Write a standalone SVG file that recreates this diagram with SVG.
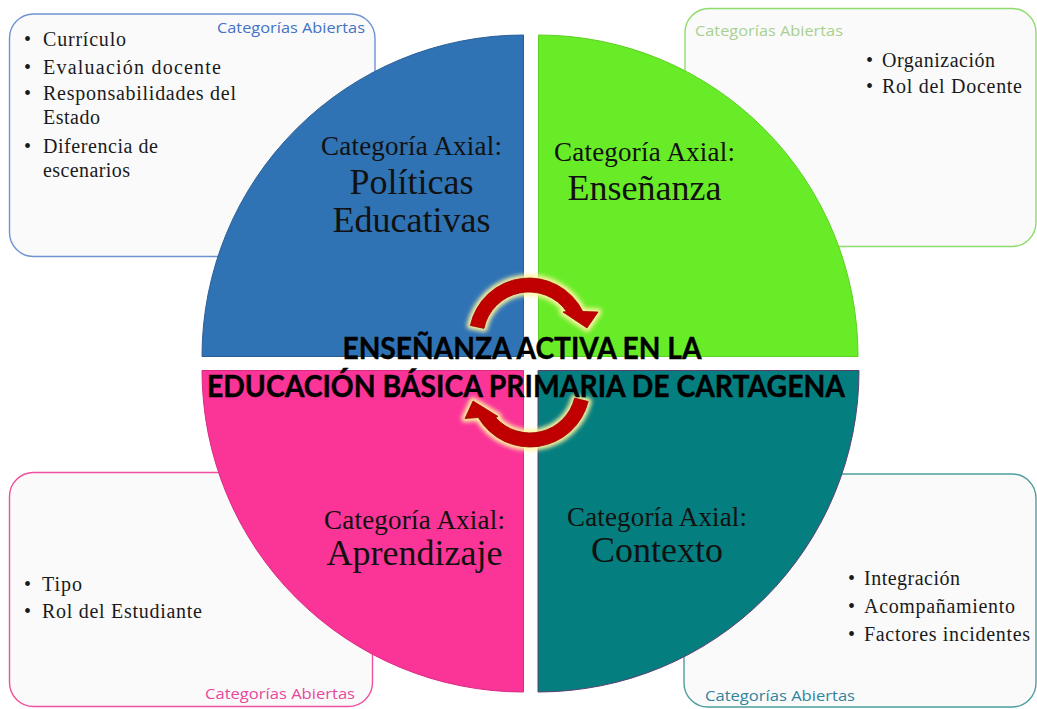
<svg xmlns="http://www.w3.org/2000/svg" width="1037" height="709" viewBox="0 0 1037 709">
<style>
.box{fill:#fafafb;stroke-width:1.4}
.lbl{font-family:"Open Sans",Lato,sans-serif;font-size:14.5px}
.item{font-family:"Liberation Serif","Times New Roman",serif;font-size:20px;fill:#1a1a1a}
.axl{font-family:"Liberation Serif","Times New Roman",serif;font-size:27px;fill:#111;text-anchor:middle}
.axn{font-family:"Liberation Serif","Times New Roman",serif;font-size:36px;fill:#111;text-anchor:middle}
.title{font-family:Lato,"Open Sans",sans-serif;font-weight:bold;font-size:30px;fill:#000;stroke:#000;stroke-width:0.4}
.arr{fill:#c00000;stroke:#9a0000;stroke-width:0.8}
.halo{fill:#fff4a0;stroke:#fff4a0;stroke-width:7;stroke-linejoin:round}
</style>
<defs>
<filter id="glow" x="-20%" y="-20%" width="140%" height="140%"><feGaussianBlur stdDeviation="2.2"/></filter>
</defs>
<rect width="1037" height="709" fill="#ffffff"/>

<g id="box-politicas">
<rect class="box" x="9.5" y="14" width="365.5" height="242.5" rx="24" stroke="#7093d0"/>
<text class="lbl" x="217" y="33" fill="#4472c4" textLength="148" lengthAdjust="spacingAndGlyphs">Categorías Abiertas</text>
<text class="item" x="24" y="46">•</text><text class="item" x="43" y="46" textLength="83">Currículo</text>
<text class="item" x="24" y="74">•</text><text class="item" x="43" y="74" textLength="178">Evaluación docente</text>
<text class="item" x="24" y="100">•</text><text class="item" x="43" y="100" textLength="193">Responsabilidades del</text>
<text class="item" x="43" y="124" textLength="57">Estado</text>
<text class="item" x="24" y="153">•</text><text class="item" x="43" y="153" textLength="115">Diferencia de</text>
<text class="item" x="43" y="177" textLength="87">escenarios</text>
</g>

<g id="box-ensenanza">
<rect class="box" x="685" y="8.5" width="351" height="238" rx="24" stroke="#8edc6a"/>
<text class="lbl" x="695" y="36" fill="#a9d18e" textLength="148" lengthAdjust="spacingAndGlyphs">Categorías Abiertas</text>
<text class="item" x="866" y="67">•</text><text class="item" x="882" y="67" textLength="113">Organización</text>
<text class="item" x="866" y="93">•</text><text class="item" x="882" y="93" textLength="140">Rol del Docente</text>
</g>

<g id="box-aprendizaje">
<rect class="box" x="9.5" y="472.5" width="363" height="234" rx="24" stroke="#f0509f"/>
<text class="lbl" x="205" y="699" fill="#e8489c" textLength="150" lengthAdjust="spacingAndGlyphs">Categorías Abiertas</text>
<text class="item" x="24" y="591">•</text><text class="item" x="42" y="591" textLength="40">Tipo</text>
<text class="item" x="24" y="618">•</text><text class="item" x="42" y="618" textLength="160">Rol del Estudiante</text>
</g>

<g id="box-contexto">
<rect class="box" x="684" y="474" width="352" height="233" rx="24" stroke="#4f9e9e"/>
<text class="lbl" x="705" y="701" fill="#31849b" textLength="150" lengthAdjust="spacingAndGlyphs">Categorías Abiertas</text>
<text class="item" x="848" y="585">•</text><text class="item" x="864" y="585" textLength="96">Integración</text>
<text class="item" x="848" y="613">•</text><text class="item" x="864" y="613" textLength="151">Acompañamiento</text>
<text class="item" x="848" y="641">•</text><text class="item" x="864" y="641" textLength="166">Factores incidentes</text>
</g>

<g id="q-politicas">
<path d="M523.5 356.5 L202 356.5 A321.5 321.5 0 0 1 523.5 35 Z" fill="#2f73b5" stroke="#2a5f96" stroke-width="1"/>
<text class="axl" x="411.5" y="155" textLength="181">Categoría Axial:</text>
<text class="axn" x="411.5" y="194">Políticas</text>
<text class="axn" x="411.5" y="232">Educativas</text>
</g>

<g id="q-ensenanza">
<path d="M538.5 356.5 L538.5 35 A319.5 321.5 0 0 1 858 356.5 Z" fill="#69ec28" stroke="#5ccf22" stroke-width="1"/>
<text class="axl" x="644.5" y="161" textLength="181">Categoría Axial:</text>
<text class="axn" x="644.5" y="200">Enseñanza</text>
</g>

<g id="q-aprendizaje">
<path d="M523.5 370.5 L523.5 692 A321.5 321.5 0 0 1 202 370.5 Z" fill="#fb3498" stroke="#d82a82" stroke-width="1"/>
<text class="axl" x="414.5" y="529" textLength="181">Categoría Axial:</text>
<text class="axn" x="414.5" y="565">Aprendizaje</text>
</g>

<g id="q-contexto">
<path d="M538 370.5 L859 370.5 A321 321.5 0 0 1 538 692 Z" fill="#047e7f" stroke="#5a3f72" stroke-width="1"/>
<text class="axl" x="657" y="526" textLength="180">Categoría Axial:</text>
<text class="axn" x="657" y="562">Contexto</text>
</g>

<g id="connectors">
<g filter="url(#glow)">
<path class="halo" d="M470.3 325.5 A60 60 0 0 1 582.8 311.5 L598 312 L587 328 L563 312 L566.6 311.5 A46 46 0 0 0 484 328.4 Z"/>
<path class="halo" d="M588.2 401.5 A60 60 0 0 1 478.3 417.5 L465 418.5 L473 401 L498 416.5 L495.6 417.5 A46 46 0 0 0 574.6 398.1 Z"/>
</g>
<path class="arr" d="M470.3 325.5 A60 60 0 0 1 582.8 311.5 L598 312 L587 328 L563 312 L566.6 311.5 A46 46 0 0 0 484 328.4 Z"/>
<path class="arr" d="M588.2 401.5 A60 60 0 0 1 478.3 417.5 L465 418.5 L473 401 L498 416.5 L495.6 417.5 A46 46 0 0 0 574.6 398.1 Z"/>
</g>

<g id="center-title">
<text class="title" x="342.5" y="358.5" textLength="359" lengthAdjust="spacingAndGlyphs">ENSEÑANZA ACTIVA EN LA</text>
<text class="title" x="207" y="397" textLength="638" lengthAdjust="spacingAndGlyphs">EDUCACIÓN BÁSICA PRIMARIA DE CARTAGENA</text>
</g>
</svg>
